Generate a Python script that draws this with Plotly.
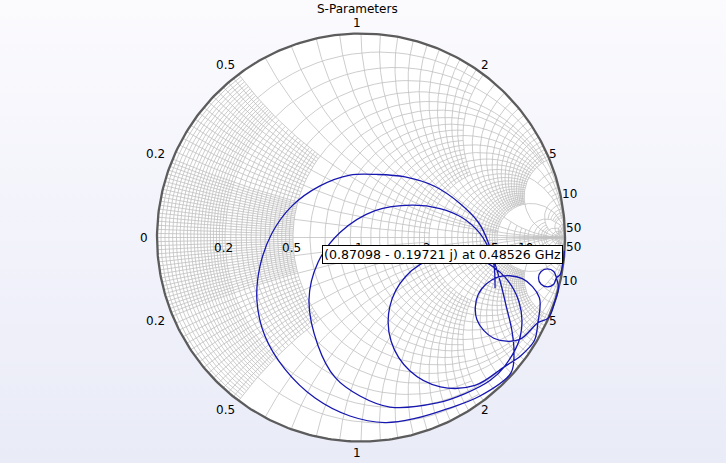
import numpy as np
import plotly.graph_objects as go

# ---------------- data (reflection coefficient) ----------------
title_text = "S-Parameters"

s11_re = [0.997, 0.988, 0.976,
          0.958, 0.945, 0.914, 0.883, 0.870, 0.883, 0.914, 0.945, 0.958,
          0.968, 0.953, 0.918,
          0.867, 0.775, 0.651, 0.568, 0.575, 0.667, 0.791, 0.874, 0.867,
          0.850, 0.785,
          0.702, 0.559, 0.389, 0.239, 0.148, 0.141, 0.220, 0.363, 0.533, 0.683, 0.774, 0.781, 0.702,
          0.632, 0.510, 0.373, 0.142, -0.005,
          -0.127, -0.211, -0.255, -0.211, -0.103, 0.069, 0.250, 0.387, 0.495, 0.583, 0.642, 0.681, 0.711,
          0.740, 0.750, 0.735,
          0.583, 0.422, 0.265, 0.118,
          -0.054, -0.225, -0.373, -0.471, -0.510, -0.495, -0.436, -0.338, -0.201, -0.054, 0.078, 0.216,
          0.363, 0.485, 0.574, 0.623, 0.652, 0.657]
s11_im = [-0.065, -0.137, -0.182,
          -0.198, -0.229, -0.242, -0.229, -0.198, -0.167, -0.154, -0.167, -0.198,
          -0.250, -0.306, -0.395,
          -0.418, -0.501, -0.494, -0.402, -0.278, -0.195, -0.202, -0.294, -0.418,
          -0.505, -0.578,
          -0.634, -0.725, -0.732, -0.653, -0.510, -0.340, -0.190, -0.099, -0.092, -0.171, -0.314, -0.484, -0.634,
          -0.701, -0.765, -0.811, -0.831, -0.777,
          -0.686, -0.529, -0.306, -0.123, 0.025, 0.132, 0.159, 0.142, 0.098, 0.020, -0.088, -0.211, -0.333,
          -0.458, -0.566, -0.664,
          -0.777, -0.840, -0.887, -0.907,
          -0.875, -0.787, -0.645, -0.483, -0.311, -0.140, 0.022, 0.155, 0.253, 0.306, 0.309, 0.297,
          0.250, 0.167, 0.076, -0.022, -0.135, -0.248]

tip_re = 0.87098
tip_im = -0.19721
tip_freq_ghz = 0.48526

axis_label_values = [0.2, 0.5, 1, 2, 5, 10]
rim_label_values = [0, 0.2, 0.5, 1, 2, 5, 10, 50]

# grid levels: (step, low, high, extent of the line along the other coordinate)
grid_levels = [(0.01, 0, 0.2, 0.5), (0.02, 0.2, 0.5, 0.5),
               (0.1, 0, 2, 2), (0.2, 0, 5, 5), (1, 0, 10, 2),
               (2, 10, 20, 10), (10, 0, 50, 50)]
major_values = [0.2, 0.5, 1, 2, 5, 10, 20, 50]

# ---------------- layout geometry ----------------
W, H = 726, 463
CX, CY, RAD = 361, 237.5, 204.0
xr = [-CX / RAD, (W - CX) / RAD]
yr = [-(H - CY) / RAD, CY / RAD]

FONT = "DejaVu Sans"
GRID = "rgb(192,192,192)"
CURVE = "#1616b0"


def gam(z):
    return (z - 1) / (z + 1)


def grid_values():
    d = {}
    for step, lo, hi, ext in grid_levels:
        n0 = int(round(lo / step))
        n1 = int(round(hi / step))
        for k in range(max(n0, 1), n1 + 1):
            v = round(k * step, 4)
            d[v] = max(d.get(v, 0), ext)
    for v in major_values:
        d[v] = np.inf
    return d


gx, gy = [], []
N = 90
for v, ext in grid_values().items():
    te = np.pi / 2 - 1e-3 if np.isinf(ext) else np.arctan(ext)
    # constant resistance circle segment
    t = np.linspace(-te, te, N)
    g = gam(v + 1j * np.tan(t))
    gx += list(g.real) + [None]
    gy += list(g.imag) + [None]
    # constant reactance arcs (+/-)
    s = np.tan(np.linspace(0, te, N))
    for sg in (1, -1):
        g = gam(s + 1j * sg * v)
        gx += list(g.real) + [None]
        gy += list(g.imag) + [None]
# real axis
gx += [-1, 1, None]
gy += [0, 0, None]

phi = np.linspace(0, 2 * np.pi, 400)
fig = go.Figure()

# background
fig.add_trace(go.Scatter(
    x=[xr[0], xr[1], xr[1], xr[0], xr[0]], y=[yr[0], yr[0], yr[1], yr[1], yr[0]],
    mode="lines", fill="toself", line=dict(width=0),
    fillgradient=dict(type="vertical", start=yr[1], stop=yr[0],
                      colorscale=[[0, "#fbfbfe"], [1, "#e9ebf7"]]),
    hoverinfo="skip"))
# white disk
fig.add_trace(go.Scatter(x=np.cos(phi), y=np.sin(phi), mode="lines", fill="toself",
                         fillcolor="white", line=dict(width=0), hoverinfo="skip"))
# grid
fig.add_trace(go.Scatter(x=gx, y=gy, mode="lines", line=dict(color=GRID, width=0.8),
                         hoverinfo="skip", connectgaps=False))
# rim
fig.add_trace(go.Scatter(x=np.cos(phi), y=np.sin(phi), mode="lines",
                         line=dict(color="#5c5c5c", width=2.3), hoverinfo="skip"))
# data
fig.add_trace(go.Scatter(x=s11_re, y=s11_im, mode="lines",
                         line=dict(color=CURVE, width=1.3, shape="spline", smoothing=1.0),
                         hoverinfo="skip"))

ann = []
# real-axis labels
for v in axis_label_values:
    ann.append(dict(x=(v - 1) / (v + 1), y=0, text=f"{v:g}", showarrow=False,
                    xshift=-2, yshift=-10, font=dict(family=FONT, size=12, color="black")))
# rim labels
for v in rim_label_values:
    th = np.pi if v == 0 else 2 * np.arctan(1 / v)
    txt = f"{v:g}"
    w = sum(3.8 if ch == "." else 7.6 for ch in txt)
    for sg in ((1,) if v == 0 else (1, -1)):
        a = sg * th
        ann.append(dict(x=np.cos(a), y=np.sin(a), text=txt, showarrow=False,
                        xshift=-4 + np.cos(a) * (5 + w / 2),
                        yshift=10 * np.sin(a) + (0 if v == 0 else sg * 1),
                        font=dict(family=FONT, size=12, color="black")))
# title
ann.append(dict(xref="paper", yref="paper", x=357 / W, y=1 - 9 / H, text=title_text,
                xanchor="center", yanchor="middle",
                showarrow=False, font=dict(family=FONT, size=12, color="black")))
# data tip
ann.append(dict(x=tip_re, y=tip_im,
                text=f"({tip_re:.5f} - {abs(tip_im):.5f} j) at {tip_freq_ghz:.5f} GHz",
                showarrow=False, xanchor="right", yanchor="bottom", xshift=24, yshift=14,
                bgcolor="white", bordercolor="black", borderwidth=1, borderpad=1,
                font=dict(family=FONT, size=12.6, color="black")))

fig.update_layout(
    width=W, height=H, margin=dict(l=0, r=0, t=0, b=0),
    paper_bgcolor="white", plot_bgcolor="white", showlegend=False,
    xaxis=dict(range=xr, visible=False, fixedrange=True),
    yaxis=dict(range=yr, visible=False, fixedrange=True),
    annotations=ann)

fig.write_html("out.html", config={"displayModeBar": False},
               post_script="document.body.style.margin='0px';document.body.style.overflow='hidden';")
